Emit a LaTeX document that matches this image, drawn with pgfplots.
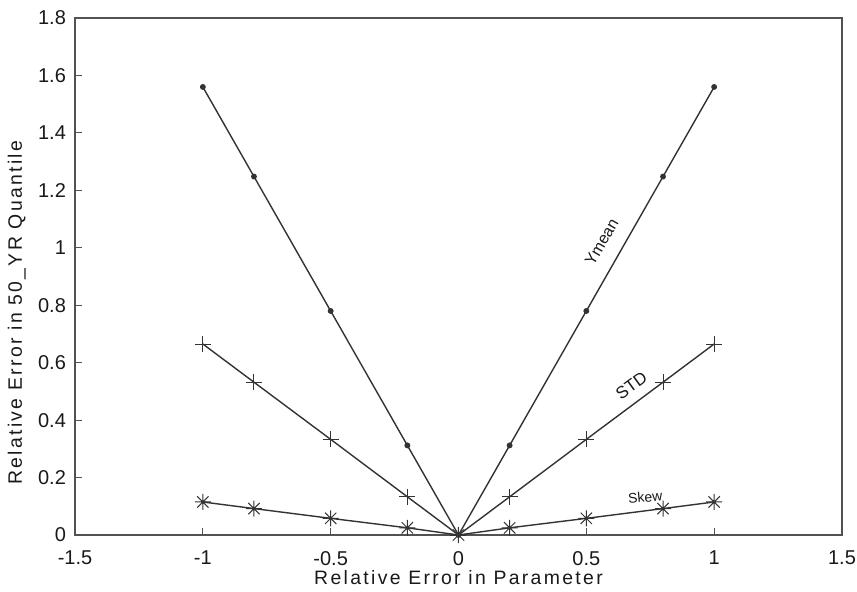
\documentclass[border=0pt]{standalone}
\usepackage{fontspec}
\setmainfont{Liberation Sans}
\newfontfamily\spaced[LetterSpace=12]{Liberation Sans}
\usepackage{pgfplots}
\pgfplotsset{compat=1.18}
\definecolor{ink}{HTML}{333333}
\pgfdeclareplotmark{ast8}{%
  \pgfpathmoveto{\pgfqpoint{-\pgfplotmarksize}{0pt}}%
  \pgfpathlineto{\pgfqpoint{\pgfplotmarksize}{0pt}}%
  \pgfpathmoveto{\pgfqpoint{0pt}{-\pgfplotmarksize}}%
  \pgfpathlineto{\pgfqpoint{0pt}{\pgfplotmarksize}}%
  \pgfpathmoveto{\pgfqpoint{-0.707\pgfplotmarksize}{-0.707\pgfplotmarksize}}%
  \pgfpathlineto{\pgfqpoint{0.707\pgfplotmarksize}{0.707\pgfplotmarksize}}%
  \pgfpathmoveto{\pgfqpoint{-0.707\pgfplotmarksize}{0.707\pgfplotmarksize}}%
  \pgfpathlineto{\pgfqpoint{0.707\pgfplotmarksize}{-0.707\pgfplotmarksize}}%
  \pgfusepathqstroke}
\begin{document}
\begin{tikzpicture}
\begin{axis}[name=ax, scale only axis, width=383.5pt, height=258.5pt,
  xmin=-1.5, xmax=1.5, ymin=0, ymax=1.8,
  xtick={-1.5,-1,-0.5,0,0.5,1,1.5},
  ytick={0,0.2,0.4,0.6,0.8,1,1.2,1.4,1.6,1.8},
  xtick pos=bottom, ytick pos=left, tick align=inside,
  major tick length=3.5pt,
  axis line style={ink!85, line width=0.6pt},
  tick style={ink!85, line width=0.6pt},
  /pgf/number format/assume math mode=true,
  ticklabel style={font=\fontsize{10}{11}\selectfont, text=black!90},
  xticklabel style={yshift=-4.5pt},
  yticklabel style={xshift=-1pt},
  xlabel={\spaced Relative Error in Parameter},
  ylabel={\spaced Relative Error in 50\_YR Quantile},
  xlabel style={font=\fontsize{9.7}{11}\selectfont, text=black!90, at={(axis description cs:0.5,-0.0965)}, anchor=base},
  ylabel style={font=\fontsize{9.7}{11}\selectfont, text=black!90, at={(axis description cs:-0.076,0.43)}, anchor=center},
]
\addplot[ink, line width=0.7pt, mark=*, mark size=1.1pt] coordinates {
  (-1,1.56) (-0.8,1.248) (-0.5,0.78) (-0.2,0.312) (0,0) (0.2,0.312) (0.5,0.78) (0.8,1.248) (1,1.56)};
\addplot[ink, line width=0.7pt, mark=+, mark size=4pt, mark options={line width=0.5pt}] coordinates {
  (-1,0.665) (-0.8,0.532) (-0.5,0.333) (-0.2,0.133) (0,0) (0.2,0.133) (0.5,0.333) (0.8,0.532) (1,0.665)};
\addplot[ink, line width=0.7pt, mark=ast8, mark size=4pt, mark options={line width=0.5pt}] coordinates {
  (-1,0.115) (-0.8,0.092) (-0.5,0.058) (-0.2,0.025) (0,0) (0.2,0.025) (0.5,0.058) (0.8,0.092) (1,0.115)};
\node[rotate=60, font=\fontsize{8}{9}\selectfont, text=black!90] at (axis cs:0.56,1.02) {Ymean};
\node[rotate=36, font=\fontsize{8.5}{9}\selectfont, text=black!90] at (axis cs:0.676,0.519) {STD};
\node[rotate=5, font=\fontsize{7}{8}\selectfont, text=black!90] at (axis cs:0.73,0.132) {Skew};
\end{axis}
\pgfresetboundingbox
\path[use as bounding box] ([xshift=-37.5pt,yshift=-28pt]ax.south west) rectangle ([xshift=7.5pt,yshift=9pt]ax.north east);
\end{tikzpicture}
\end{document}
